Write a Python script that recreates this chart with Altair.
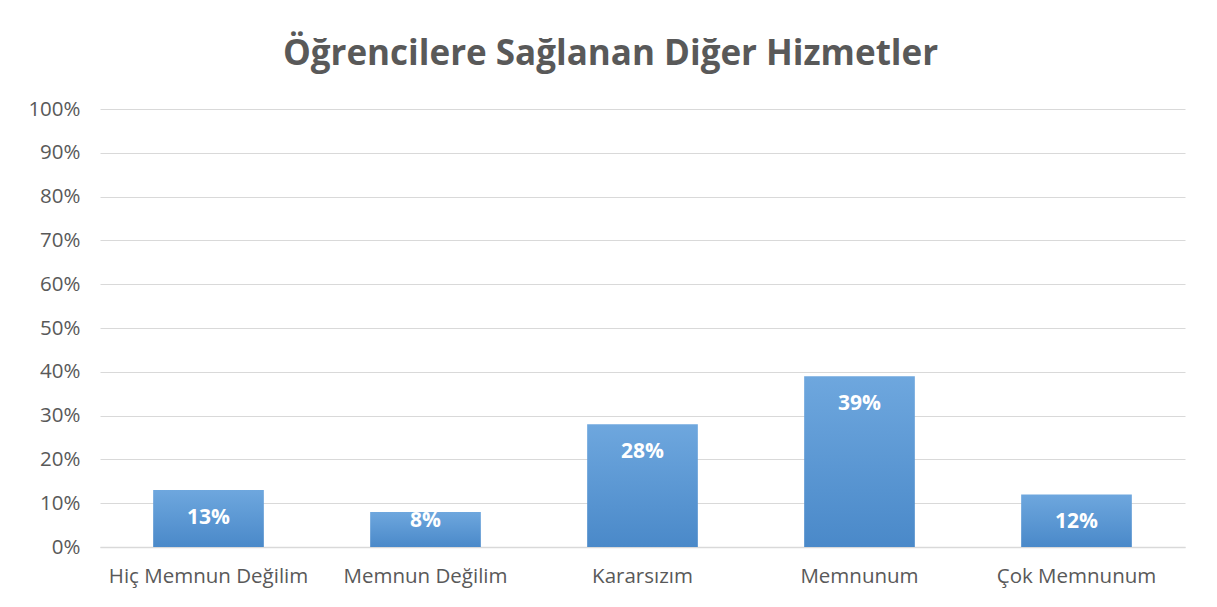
import altair as alt
import pandas as pd

categories = ["Hiç Memnun Değilim", "Memnun Değilim", "Kararsızım", "Memnunum", "Çok Memnunum"]
values = [0.13, 0.08, 0.28, 0.39, 0.12]
labels = ["13%", "8%", "28%", "39%", "12%"]

df = pd.DataFrame({"cat": categories, "val": values, "lab": labels})

FONT = "Open Sans"
GRAY = "#595959"

x = alt.X("cat:N", sort=categories, title=None,
          scale=alt.Scale(paddingInner=0.49, paddingOuter=0.245),
          axis=alt.Axis(labelAngle=0, labelFontSize=20.5, labelColor=GRAY, labelFont=FONT,
                        labelLimit=400, ticks=False, grid=False, domainColor="#d9d9d9",
                        domainWidth=1.5, labelPadding=19))
y = alt.Y("val:Q", title=None,
          scale=alt.Scale(domain=[0, 1]),
          axis=alt.Axis(format=".0%", values=[i / 10 for i in range(11)], labelFontSize=20.5,
                        labelColor=GRAY, labelFont=FONT, ticks=False, domain=False,
                        gridColor="#d9d9d9", gridWidth=1.2, labelPadding=20))

bars = alt.Chart(df).mark_bar(
    color=alt.Gradient(
        gradient="linear",
        stops=[alt.GradientStop(color="#6ea7de", offset=0),
               alt.GradientStop(color="#4a89c9", offset=1)],
        x1=0, x2=0, y1=0, y2=1,
    )
).encode(x=x, y=y)

text = alt.Chart(df).transform_calculate(
    ly="datum.val < 0.1 ? datum.val - 0.02 : datum.val - 0.064"
).mark_text(
    color="white", fontWeight="bold", fontSize=21, font=FONT, baseline="middle"
).encode(x=alt.X("cat:N", sort=categories), y=alt.Y("ly:Q"), text="lab:N")

chart = alt.layer(bars, text).properties(
    width=1085, height=438,
    autosize=alt.AutoSizeParams(type="none"),
    padding={"left": 92, "top": 101, "right": 24, "bottom": 52},
    title=alt.TitleParams("Öğrencilere Sağlanan Diğer Hizmetler", fontSize=35, font=FONT,
                          fontWeight="bold", color=GRAY, anchor="middle", offset=27, dx=-32),
).configure(background="white").configure_view(stroke=None)

chart.save("out.html", embed_options={"renderer": "svg", "actions": False})
